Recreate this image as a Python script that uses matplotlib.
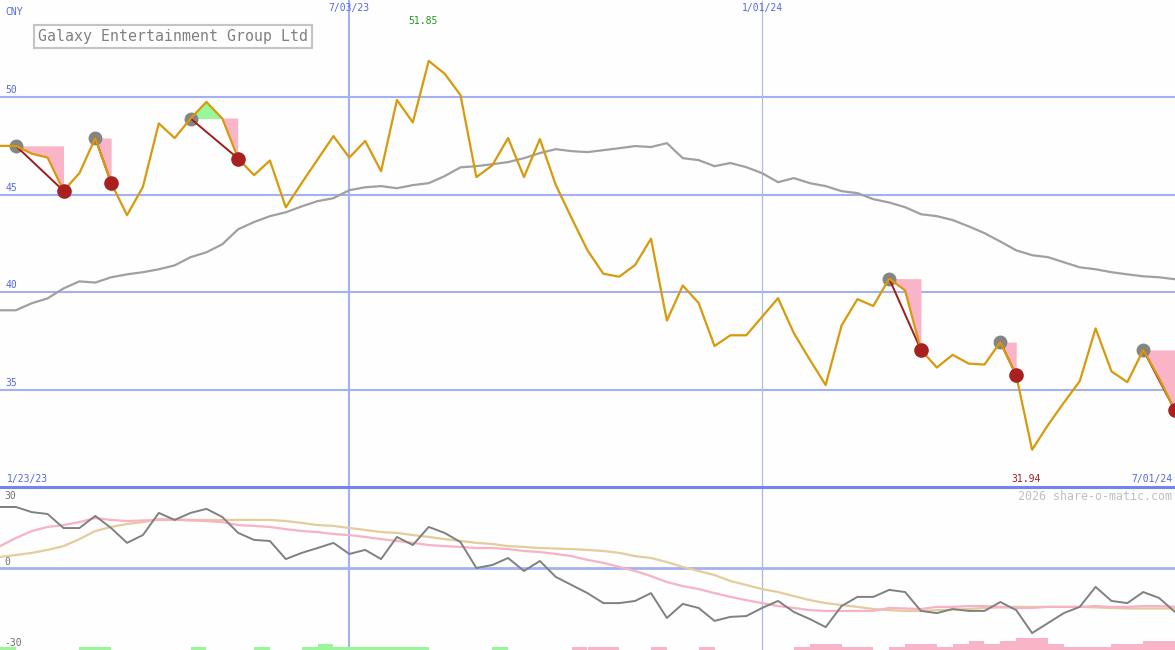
import matplotlib
matplotlib.use('Agg')
import matplotlib.pyplot as plt
import pandas as pd
import numpy as np

W, H = 1175, 650
SPLIT = 487  # pixel row where the price panel ends

# weekly closes, first point 1/30/23
weeks = pd.date_range('2023-01-30', periods=75, freq='7D')
price = [47.5, 47.5, 47.1, 46.9, 45.2, 46.1, 47.9, 45.6, 43.95, 45.4,
         48.65, 47.9, 48.9, 49.75, 48.9, 46.85, 46.0, 46.75, 44.35, 45.6,
         46.8, 48.0, 46.9, 47.75, 46.2, 49.85, 48.7, 51.85, 51.2, 50.1,
         45.9, 46.5, 47.9, 45.9, 47.85, 45.5, 43.8, 42.15, 40.95, 40.8,
         41.4, 42.75, 38.55, 40.35, 39.45, 37.25, 37.8, 37.8, 38.75, 39.7,
         37.9, 36.55, 35.25, 38.3, 39.65, 39.3, 40.7, 40.1, 37.05, 36.15,
         36.8, 36.35, 36.3, 37.45, 35.75, 31.94, 33.2, 34.35, 35.45, 38.15,
         35.95, 35.4, 37.05, 35.6, 33.95]
avg = [39.08, 39.08, 39.44, 39.69, 40.2, 40.56, 40.5, 40.77, 40.92, 41.03,
       41.18, 41.38, 41.8, 42.05, 42.46, 43.23, 43.6, 43.9, 44.1, 44.4,
       44.67, 44.82, 45.23, 45.38, 45.44, 45.33, 45.49, 45.59, 45.95, 46.4,
       46.46, 46.56, 46.67, 46.87, 47.13, 47.33, 47.23, 47.18, 47.28, 47.38,
       47.49, 47.44, 47.64, 46.87, 46.77, 46.46, 46.62, 46.41, 46.1, 45.64,
       45.85, 45.59, 45.44, 45.18, 45.08, 44.77, 44.6, 44.36, 44.0, 43.9,
       43.7, 43.38, 43.03, 42.6, 42.15, 41.9, 41.8, 41.54, 41.28, 41.18,
       41.03, 40.92, 40.82, 40.77, 40.67]
osc = [22.6, 22.6, 20.7, 20.0, 14.8, 14.8, 19.3, 14.8, 9.3, 12.2,
       20.4, 17.8, 20.4, 21.9, 18.9, 13.0, 10.4, 10.0, 3.3, 5.6,
       7.4, 9.3, 5.2, 6.7, 3.3, 11.5, 8.5, 15.2, 13.0, 9.6,
       0.0, 1.1, 3.7, -1.1, 2.6, -3.3, -6.3, -9.3, -13.0, -13.0,
       -12.2, -9.3, -18.5, -13.3, -14.8, -19.6, -18.1, -17.8, -14.8, -12.2,
       -16.3, -18.9, -21.9, -14.1, -10.7, -10.7, -8.1, -8.9, -15.9, -16.7,
       -15.2, -15.9, -15.9, -12.6, -15.6, -24.1, -20.4, -16.7, -14.4, -7.0,
       -12.2, -13.0, -8.9, -11.1, -16.3]
osc_fast = [8.1, 11.1, 13.7, 15.2, 15.9, 17.0, 18.5, 17.8, 17.4, 17.6,
            17.8, 17.8, 17.6, 17.4, 17.0, 15.9, 15.6, 15.2, 14.4, 13.7,
            13.3, 12.6, 12.2, 11.5, 10.7, 10.0, 9.3, 8.5, 8.1, 7.8,
            7.4, 7.4, 7.0, 6.3, 5.9, 5.2, 4.4, 3.0, 1.9, 0.4,
            -1.1, -3.0, -5.2, -6.7, -7.8, -9.3, -10.7, -11.9, -13.0, -14.1,
            -14.8, -15.6, -15.9, -15.9, -15.9, -15.9, -14.8, -15.0, -15.2, -14.4,
            -14.4, -14.1, -14.1, -14.4, -14.8, -14.8, -14.4, -14.4, -14.4, -14.1,
            -14.4, -14.4, -14.1, -14.1, -14.4]
osc_slow = [4.1, 4.8, 5.6, 6.7, 8.1, 10.7, 13.7, 15.2, 16.3, 17.0,
            18.1, 18.0, 17.8, 17.8, 17.8, 17.8, 17.8, 17.8, 17.4, 16.7,
            15.9, 15.6, 14.8, 14.1, 13.3, 13.0, 12.2, 11.5, 10.7, 10.0,
            9.3, 8.9, 8.1, 7.8, 7.4, 7.2, 7.0, 6.7, 6.3, 5.6,
            4.4, 3.7, 2.2, 0.4, -1.1, -2.6, -4.8, -6.3, -7.8, -8.9,
            -10.4, -11.9, -13.0, -13.7, -14.4, -15.2, -15.6, -15.9, -15.9, -15.6,
            -15.4, -15.2, -14.8, -14.6, -14.4, -14.4, -14.4, -14.4, -14.4, -14.6,
            -14.8, -15.0, -15.0, -15.0, -15.0]
# bar level for each week interval (positive green, negative pink)
bar_level = [1, 0, 0, 0, 0, 1, 1, 0, 0, 0,
             0, 0, 1, 0, 0, 0, 1, 0, 0, 1,
             2, 1, 1, 1, 1, 1, 1, 0, 0, 0,
             0, 1, 0, 0, 0, 0, -1, -1, -1, 0,
             0, -1, 0, 0, -1, 0, 0, 0, 0, 0,
             -1, -2, -2, -1, -1, 0, -1, -2, -2, -1,
             -2, -3, -2, -3, -4, -4, -2, -1, -1, -1,
             -2, -2, -3, -3]
# signals: index of start (grey dot) and end (red dot) weeks
sig_start = [1, 6, 12, 56, 63, 72]
sig_end = [4, 7, 15, 58, 64, 74]

price_ticks = [35, 40, 45, 50]
osc_ticks = [30, 0, -30]
date_marks = pd.to_datetime(['2023-07-03', '2024-01-01'])
date_labels = ['7/03/23', '1/01/24']

bg = '#fdfefd'
grid_c = '#a3b1f2'
blue_txt = '#5468e8'
mono = 'DejaVu Sans Mono'
x0, x1 = pd.Timestamp('2023-01-30'), pd.Timestamp('2024-07-01')

fig = plt.figure(figsize=(W / 100, H / 100), dpi=100, facecolor=bg)
ax = fig.add_axes([0, 1 - SPLIT / H, 1, SPLIT / H], facecolor=bg)
ax2 = fig.add_axes([0, 0, 1, (H - SPLIT) / H], facecolor=bg)

for a in (ax, ax2):
    a.set_xlim(x0, x1)
    a.set_xticks([])
    a.set_yticks([])
    for s in a.spines.values():
        s.set_visible(False)

ax.set_ylim(30.03, 54.97)
ax2.set_ylim(-30.37, 30.0)

# grid
for v in price_ticks:
    ax.axhline(v, color=grid_c, lw=1.5, zorder=1)
    ax.annotate(str(v), xy=(0, v), xycoords=('axes fraction', 'data'),
                xytext=(5, 2), textcoords='offset pixels', va='bottom',
                ha='left', fontsize=7, family=mono, color=blue_txt)
ax2.axhline(0, color=grid_c, lw=2, zorder=1)
ax.vlines(date_marks[0], 30.03, 54.97, color=grid_c, lw=1.5, zorder=1)
ax.vlines(date_marks[1], 30.03, 54.97, color='#b4bce0', lw=0.9, zorder=1)
ax2.vlines(date_marks[0], -30.37, 30, color=grid_c, lw=1.5, zorder=1)
ax2.vlines(date_marks[1], -30.37, 30, color='#aab6ee', lw=0.9, zorder=1)

for d, lab in zip(date_marks, date_labels):
    ax.text(d, 1 - 8 / SPLIT, lab, transform=ax.get_xaxis_transform(),
            ha='center', va='center', fontsize=7, family=mono, color=blue_txt)

# signal fills
pr = np.array(price)
for s, e in zip(sig_start, sig_end):
    xs = weeks[s:e + 1]
    ys = pr[s:e + 1]
    ax.fill_between(xs, ys, pr[s], where=ys <= pr[s], interpolate=True,
                    color='#f9b4c8', lw=0, zorder=2)
    ax.fill_between(xs, ys, pr[s], where=ys >= pr[s], interpolate=True,
                    color='#98f898', lw=0, zorder=2)

ax.plot(weeks, avg, color='#a0a0a0', lw=1.6, zorder=3)
ax.plot(weeks[sig_start], pr[sig_start], 'o', color='#858585', ms=9, zorder=3)
for s, e in zip(sig_start, sig_end):
    ax.plot([weeks[s], weeks[e]], [pr[s], pr[e]], color='#a01c1c', lw=1.4, zorder=4)
ax.plot(weeks, price, color='#d89a0c', lw=1.6, zorder=5)
ax.plot(weeks[sig_end], pr[sig_end], 'o', color='#a82020', ms=9.5, zorder=6)

# extremes
imax = int(np.argmax(pr))
imin = int(np.argmin(pr))
ax.annotate(f'{pr[imax]:.2f}', xy=(weeks[imax], 0), xycoords=('data', 'axes fraction'),
            xytext=(-6, SPLIT - 21), textcoords='offset pixels', ha='center',
            va='center', fontsize=7, family=mono, color='#229922')
ax.annotate(f'{pr[imin]:.2f}', xy=(weeks[imin], 0), xycoords=('data', 'axes fraction'),
            xytext=(-6, 8), textcoords='offset pixels', ha='center',
            va='center', fontsize=7, family=mono, color='#a02020')
ax.text(7 / W, 8 / SPLIT, '1/23/23', transform=ax.transAxes, ha='left',
        va='center', fontsize=7, family=mono, color=blue_txt)
ax.text(1 - 3 / W, 8 / SPLIT, '7/01/24', transform=ax.transAxes, ha='right',
        va='center', fontsize=7, family=mono, color=blue_txt)
ax.text(5 / W, 1 - 12 / SPLIT, 'CNY', transform=ax.transAxes, ha='left',
        va='center', fontsize=7, family=mono, color=blue_txt)

fig.text(38 / W, 1 - 36.5 / H, 'Galaxy Entertainment Group Ltd', ha='left',
         va='center', fontsize=10.7, family=mono, color='#808080',
         bbox=dict(boxstyle='square,pad=0.3', fc=bg, ec='#c4c4c4', lw=1.5))

# lower panel
lv = np.array(bar_level)
bar_h = np.abs(lv) * 1.1
bar_c = np.where(lv > 0, '#98f898', '#f9b4c8')
ax2.bar(weeks[:-1], bar_h, width=7, align='edge', bottom=-30.37,
        color=bar_c, lw=0, zorder=2)
ax2.plot(weeks, osc_slow, color='#e4cc9c', lw=1.6, zorder=3)
ax2.plot(weeks, osc_fast, color='#f7b2c6', lw=1.6, zorder=3)
ax2.plot(weeks, osc, color='#808080', lw=1.4, zorder=4)

for v in osc_ticks:
    off = -9 if v == 30 else 6
    ax2.annotate(str(v), xy=(0, v), xycoords=('axes fraction', 'data'),
                 xytext=(4, off), textcoords='offset pixels', va='center',
                 ha='left', fontsize=7, family=mono, color='#707070')
ax2.text(1 - 3 / W, 1 - 9 / (H - SPLIT), '2026 share-o-matic.com',
         transform=ax2.transAxes, ha='right', va='center', fontsize=8.4,
         family=mono, color='#c0c0c0')

# separator between panels
fig.add_artist(plt.Line2D([0, 1], [1 - SPLIT / H] * 2, color='#7484ec', lw=2.2,
                          transform=fig.transFigure))

fig.savefig('out.png', dpi=100, facecolor=bg)
